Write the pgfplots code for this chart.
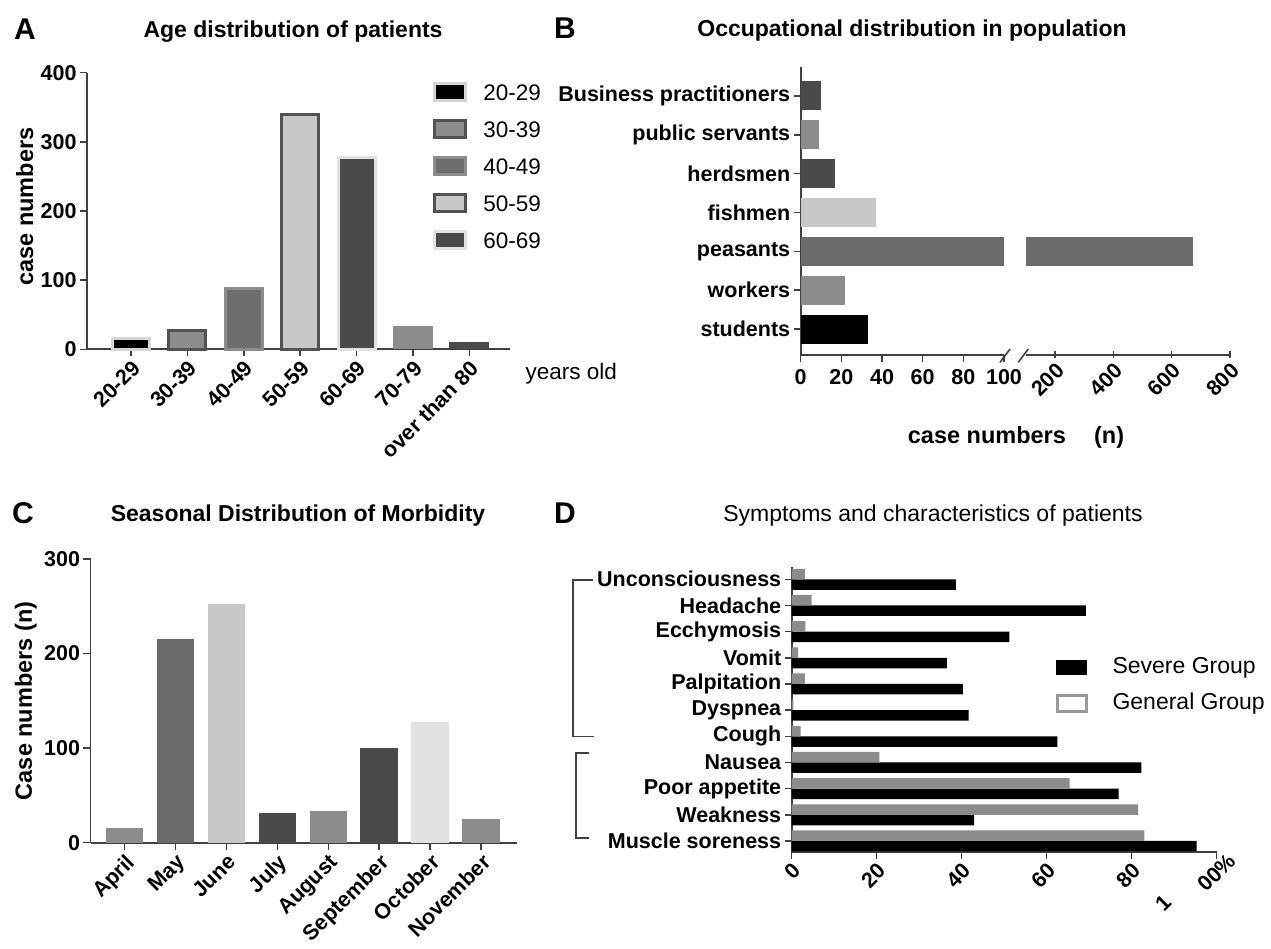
\documentclass[border=0pt]{standalone}
\usepackage{pgfplots}
\pgfplotsset{compat=1.18}
\usepackage{fontspec}
\setmainfont{Liberation Sans}
\definecolor{axgray}{HTML}{404040}
\definecolor{gA}{HTML}{D6D6D6}
\definecolor{gB}{HTML}{525252}
\definecolor{gC}{HTML}{8C8C8C}
\definecolor{gD}{HTML}{6E6E6E}
\definecolor{gE}{HTML}{C8C8C8}
\definecolor{gF}{HTML}{4A4A4A}
\definecolor{gG}{HTML}{E2E2E2}
\definecolor{gH}{HTML}{6B6B6B}
\definecolor{gI}{HTML}{999999}
\newcommand{\tl}{\fontsize{21.5}{25}\selectfont\bfseries}
\newcommand{\al}{\fontsize{23.5}{28}\selectfont\bfseries}
\newcommand{\ttl}{\fontsize{23}{27}\selectfont\bfseries}
\newcommand{\pl}{\fontsize{30}{33}\selectfont\bfseries}
\pgfplotsset{
  base/.style={scale only axis, axis lines=left,
    axis line style={-, draw=axgray, line width=1.8pt},
    tick style={draw=axgray, line width=1.5pt}, major tick length=7pt,
    tick align=outside, ticklabel style={font=\tl}, label style={font=\al},
    /pgf/number format/assume math mode=true, clip=false},
}
\begin{document}
\begin{tikzpicture}
\useasboundingbox (0pt,0pt) rectangle (1271pt,948pt);
% ---------- panel letters and titles
\node[font=\pl] at (25pt,919pt) {A};
\node[font=\pl] at (565pt,920pt) {B};
\node[font=\pl] at (23pt,435pt) {C};
\node[font=\pl] at (565pt,435pt) {D};
\node[anchor=base, font=\ttl] at (293pt,910.7pt) {Age distribution of patients};
\node[anchor=base, font=\ttl] at (912pt,911pt) {Occupational distribution in population};
\node[anchor=base, font=\ttl] at (298pt,426.3pt) {Seasonal Distribution of Morbidity};
\node[anchor=base, font=\fontsize{23}{27}\selectfont] at (933pt,426.3pt) {Symptoms and characteristics of patients};

% ---------- A
\begin{axis}[base, at={(87pt,598.7pt)}, anchor=south west, width=423pt, height=276.6pt,
  xmin=-0.781, xmax=6.72, ymin=0, ymax=400, ytick={0,100,200,300,400},
  xtick={0,...,6}, xticklabels={20-29,30-39,40-49,50-59,60-69,70-79,over than 80},
  xticklabel style={rotate=45, anchor=north east, inner sep=2pt},
  ylabel={case numbers}, ylabel style={at={(axis description cs:-0.147,0.516)}, anchor=center},
  legend style={at={(0.811,0.973)}, anchor=north west, draw=none, fill=none,
    font=\fontsize{22.5}{26}\selectfont, legend cell align=left,
    nodes={inner sep=0pt, text height=16pt, text depth=0pt}, row sep=17pt,
    /tikz/every odd column/.append style={column sep=16pt}}]
\addplot[ybar, bar width=37pt, bar shift=0pt, fill=black, draw=gA, line width=3pt, forget plot] coordinates {(0,16)};
\addplot[ybar, bar width=37pt, bar shift=0pt, fill=gC, draw=gB, line width=3pt, forget plot] coordinates {(1,27)};
\addplot[ybar, bar width=37pt, bar shift=0pt, fill=gD, draw=gC, line width=3pt, forget plot] coordinates {(2,88)};
\addplot[ybar, bar width=37pt, bar shift=0pt, fill=gE, draw=gB, line width=3pt, forget plot] coordinates {(3,340)};
\addplot[ybar, bar width=37pt, bar shift=0pt, fill=gF, draw=gG, line width=3pt, forget plot] coordinates {(4,277)};
\addplot[ybar, bar width=40pt, bar shift=0pt, fill=gC, draw=none, forget plot] coordinates {(5,33)};
\addplot[ybar, bar width=40pt, bar shift=0pt, fill=gF, draw=none, forget plot] coordinates {(6,11)};
\addlegendimage{legend image code/.code={\draw[fill=black, draw=gA, line width=3pt] (0pt,-8.5pt) rectangle (31pt,8.5pt);}}
\addlegendentry{20-29}
\addlegendimage{legend image code/.code={\draw[fill=gC, draw=gB, line width=3pt] (0pt,-8.5pt) rectangle (31pt,8.5pt);}}
\addlegendentry{30-39}
\addlegendimage{legend image code/.code={\draw[fill=gD, draw=gC, line width=3pt] (0pt,-8.5pt) rectangle (31pt,8.5pt);}}
\addlegendentry{40-49}
\addlegendimage{legend image code/.code={\draw[fill=gE, draw=gB, line width=3pt] (0pt,-8.5pt) rectangle (31pt,8.5pt);}}
\addlegendentry{50-59}
\addlegendimage{legend image code/.code={\draw[fill=gF, draw=gG, line width=3pt] (0pt,-8.5pt) rectangle (31pt,8.5pt);}}
\addlegendentry{60-69}
\end{axis}
\node[anchor=base west, font=\fontsize{22.5}{26}\selectfont] at (522pt,568pt) {years old};

% ---------- B (left part 0-100)
\begin{axis}[base, at={(800.7pt,593pt)}, anchor=south west, width=203.3pt, height=288.3pt,
  xmin=0, xmax=100, ymin=-0.668, ymax=6.753, xtick={0,20,40,60,80,100},
  xticklabel style={yshift=-4pt},
  ytick={0,...,6}, yticklabels={students,workers,peasants,fishmen,herdsmen,public servants,Business practitioners}]
\addplot[xbar, bar width=29pt, bar shift=0pt, fill=black, draw=none] coordinates {(33,0)};
\addplot[xbar, bar width=29pt, bar shift=0pt, fill=gC, draw=none] coordinates {(22,1)};
\addplot[xbar, bar width=29pt, bar shift=0pt, fill=gH, draw=none] coordinates {(100,2)};
\addplot[xbar, bar width=29pt, bar shift=0pt, fill=gE, draw=none] coordinates {(37,3)};
\addplot[xbar, bar width=29pt, bar shift=0pt, fill=gF, draw=none] coordinates {(17,4)};
\addplot[xbar, bar width=29pt, bar shift=0pt, fill=gC, draw=none] coordinates {(9,5)};
\addplot[xbar, bar width=29pt, bar shift=0pt, fill=gF, draw=none] coordinates {(10,6)};
\end{axis}
% ---------- B (right part 100-800)
\begin{axis}[base, axis x line=bottom, axis y line=none, axis line style={-, draw=axgray, line width=1.8pt},
  at={(1025.8pt,593pt)}, anchor=south west,
  width=204.2pt, height=288.3pt,
  xmin=100, xmax=800, ymin=-0.668, ymax=6.753, xtick={200,400,600,800}, ytick=\empty,
  xticklabel style={rotate=45, anchor=north east, inner sep=2pt}]
\addplot[xbar, bar width=29pt, bar shift=0pt, fill=gH, draw=none] coordinates {(673,2)};
\end{axis}
\draw[axgray, line width=1.6pt] (1000pt,585.7pt) -- (1010pt,599pt) (1018.3pt,585.7pt) -- (1028.3pt,599pt);
\node[font=\al] at (1016pt,511pt) {case numbers\hspace{1.2em}(n)};

% ---------- C
\begin{axis}[base, at={(90.5pt,105.3pt)}, anchor=south west, width=426.1pt, height=283.7pt,
  xmin=-0.672, xmax=7.70, ymin=0, ymax=300, ytick={0,100,200,300},
  xtick={0,...,7}, xticklabels={April,May,June,July,August,September,October,November},
  xticklabel style={rotate=45, anchor=north east, inner sep=2pt},
  ylabel={Case numbers (n)}, ylabel style={at={(axis description cs:-0.152,0.5)}, anchor=center}]
\addplot[ybar, bar width=37.5pt, bar shift=0pt, fill=gC, draw=none] coordinates {(0,16)};
\addplot[ybar, bar width=37.5pt, bar shift=0pt, fill=gH, draw=none] coordinates {(1,215)};
\addplot[ybar, bar width=37.5pt, bar shift=0pt, fill=gE, draw=none] coordinates {(2,252)};
\addplot[ybar, bar width=37.5pt, bar shift=0pt, fill=gF, draw=none] coordinates {(3,31)};
\addplot[ybar, bar width=37.5pt, bar shift=0pt, fill=gC, draw=none] coordinates {(4,34)};
\addplot[ybar, bar width=37.5pt, bar shift=0pt, fill=gF, draw=none] coordinates {(5,100)};
\addplot[ybar, bar width=37.5pt, bar shift=0pt, fill=gG, draw=none] coordinates {(6,128)};
\addplot[ybar, bar width=37.5pt, bar shift=0pt, fill=gC, draw=none] coordinates {(7,25)};
\end{axis}

% ---------- D
\begin{axis}[base, at={(791.7pt,96.3pt)}, anchor=south west, width=425pt, height=285pt,
  xmin=0, xmax=100, ymin=-0.409, ymax=10.48,
  xtick={0,20,40,60,80,100}, xticklabels={0,20,40,60,80,{00\%\kern-14pt}},
  xticklabel style={rotate=45, anchor=north east, inner sep=2pt},
  extra x ticks={87.5}, extra x tick labels={1},
  extra x tick style={tick style={draw=none}, xticklabel style={xshift=-23pt, yshift=-22pt}},
  ytick={0,...,10}, yticklabels={Muscle soreness,Weakness,Poor appetite,Nausea,Cough,Dyspnea,Palpitation,Vomit,Ecchymosis,Headache,Unconsciousness},
  legend style={at={(0.614,0.69)}, anchor=north west, draw=none, fill=none,
    font=\fontsize{23}{27}\selectfont, legend cell align=left,
    nodes={inner sep=0pt, text height=16.5pt, text depth=4pt}, row sep=15.5pt,
    /tikz/every odd column/.append style={column sep=25pt}}]
\addplot[xbar, bar width=10.5pt, bar shift=-5.25pt, fill=black, draw=none, forget plot] coordinates {
(95.3,0) (42.9,1) (76.9,2) (82.3,3) (62.5,4) (41.6,5) (40.3,6) (36.5,7) (51.2,8) (69.2,9) (38.6,10)};
\addplot[xbar, bar width=10.5pt, bar shift=5.25pt, fill=gC, draw=none, forget plot] coordinates {
(83.0,0) (81.5,1) (65.4,2) (20.6,3) (2.1,4) (0.4,5) (3.1,6) (1.5,7) (3.2,8) (4.7,9) (3.1,10)};
\addlegendimage{legend image code/.code={\fill[black] (0pt,-7pt) rectangle (30pt,7pt);}}
\addlegendentry{Severe Group}
\addlegendimage{legend image code/.code={\draw[draw=gI, line width=3pt, fill=white] (1.5pt,-8pt) rectangle (30pt,8pt);}}
\addlegendentry{General Group}
\end{axis}
% brackets
\draw[axgray, line width=1.6pt] (593pt,368pt) -- (572.7pt,368pt) -- (572.7pt,211.3pt) -- (594pt,211.3pt);
\draw[axgray, line width=1.6pt] (589.3pt,195.3pt) -- (575.8pt,195.3pt) -- (575.8pt,110.3pt) -- (589.3pt,110.3pt);
\end{tikzpicture}
\end{document}
